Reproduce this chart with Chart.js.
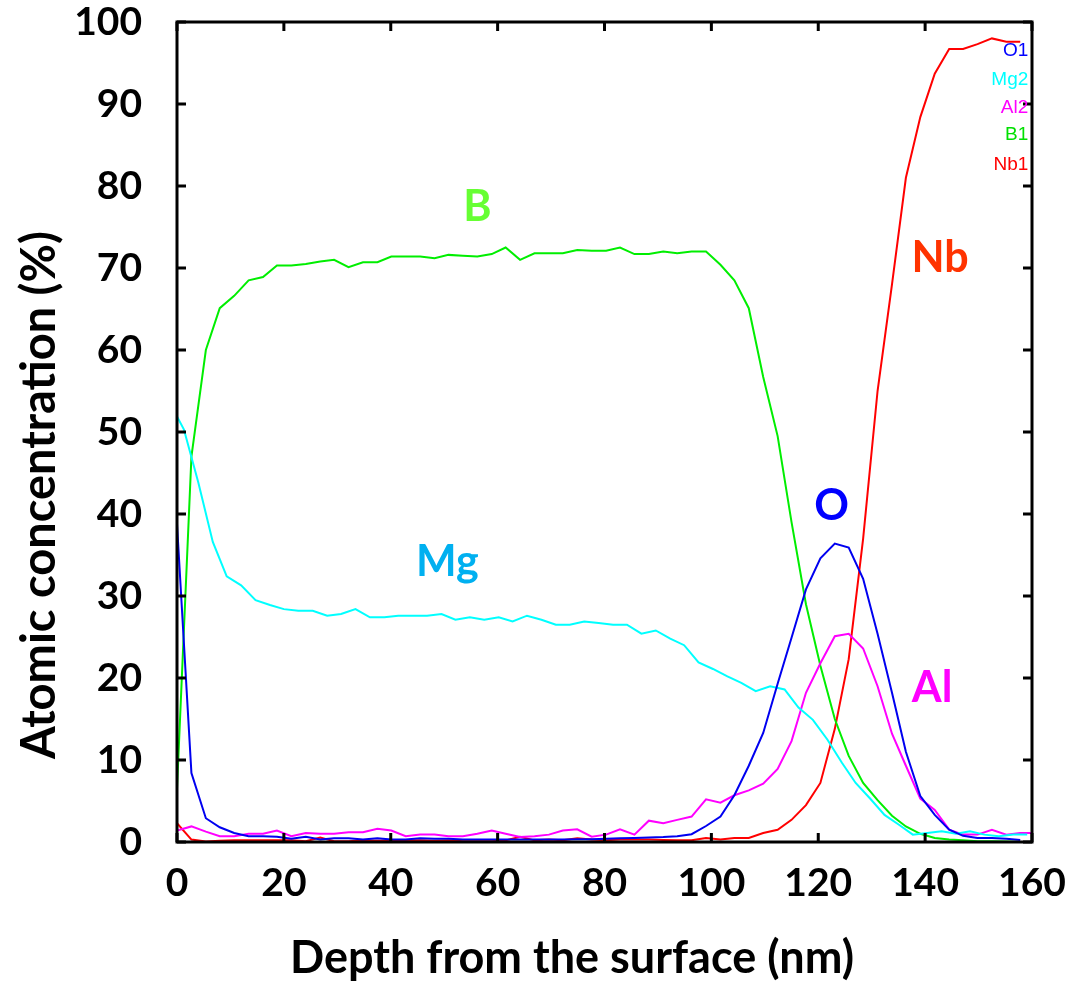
<!DOCTYPE html>
<html>
<head>
<meta charset="utf-8">
<script src="https://cdn.jsdelivr.net/npm/chart.js@4.4.1/dist/chart.umd.min.js"></script>
<style>
    html, body { margin: 0; padding: 0; background: #fff; }
    #wrap { width: 1072px; height: 981px; }
</style>
</head>
<body>
<div id="wrap"><canvas id="profile" width="1072" height="981"></canvas></div>
<script>
// ======================================================================
//  Données : profil de concentration atomique (%) en fonction de la profondeur (nm)
// ======================================================================

// Profondeurs communes (B, O, Al, Nb)
const depth = [0, 2.7, 5.4, 8.0, 10.7, 13.4, 16.1, 18.7, 21.4, 24.1,
    26.8, 29.4, 32.1, 34.8, 37.5, 40.1, 42.8, 45.5, 48.2, 50.8,
    53.5, 56.2, 58.9, 61.5, 64.2, 66.9, 69.6, 72.2, 74.9, 77.6,
    80.3, 82.9, 85.6, 88.3, 91.0, 93.6, 96.3, 99.0, 101.7, 104.3,
    107.0, 109.7, 112.4, 115.0, 117.7, 120.4, 123.1, 125.7, 128.4, 131.1,
    133.8, 136.4, 139.1, 141.8, 144.5, 147.1, 149.8, 152.5, 155.2, 157.8, 160.5];

// Profondeurs du Mg (acquisition décalée)
const depthMg = [0, 1.3, 4.0, 6.7, 9.3, 12.0, 14.7, 17.4, 20.0, 22.7,
    25.4, 28.1, 30.7, 33.4, 36.1, 38.8, 41.4, 44.1, 46.8, 49.5,
    52.1, 54.8, 57.5, 60.2, 62.8, 65.5, 68.2, 70.9, 73.5, 76.2,
    78.9, 81.6, 84.2, 86.9, 89.6, 92.3, 94.9, 97.6, 100.3, 103.0,
    105.6, 108.3, 111.0, 113.7, 116.3, 119.0, 121.7, 124.4, 127.0, 129.7,
    132.4, 135.1, 137.7, 140.4, 143.1, 145.8, 148.4, 151.1, 153.8, 156.5, 159.1];

const boron = [6.5, 47, 60, 65.1, 66.6, 68.5, 68.9, 70.3, 70.3, 70.5,
    70.8, 71.0, 70.1, 70.7, 70.7, 71.4, 71.4, 71.4, 71.2, 71.6,
    71.5, 71.4, 71.7, 72.5, 71.0, 71.8, 71.8, 71.8, 72.2, 72.1,
    72.1, 72.5, 71.7, 71.7, 72.0, 71.8, 72.0, 72.0, 70.4, 68.5,
    65.1, 56.7, 49.5, 39, 29, 21.5, 15, 10.5, 7.2, 5.1,
    3.2, 1.9, 1.0, 0.5, 0.3, 0.2, 0.1, 0.1, 0.05, 0];

const magnesium = [51.9, 50.3, 43.8, 36.6, 32.4, 31.3, 29.5, 28.9, 28.4, 28.2,
    28.2, 27.6, 27.8, 28.4, 27.4, 27.4, 27.6, 27.6, 27.6, 27.8,
    27.1, 27.4, 27.1, 27.4, 26.9, 27.6, 27.1, 26.5, 26.5, 26.9,
    26.7, 26.5, 26.5, 25.4, 25.8, 24.8, 24.0, 21.9, 21.1, 20.2,
    19.4, 18.4, 19.0, 18.6, 16.4, 14.9, 12.5, 9.7, 7.2, 5.3,
    3.3, 2.1, 0.9, 1.1, 1.3, 1.0, 1.3, 0.9, 0.7, 0.9, 0.9];

const oxygen = [38.8, 8.4, 2.9, 1.8, 1.1, 0.7, 0.7, 0.65, 0.4, 0.65,
    0.3, 0.45, 0.45, 0.3, 0.45, 0.3, 0.3, 0.45, 0.4, 0.4,
    0.3, 0.3, 0.3, 0.3, 0.3, 0.3, 0.3, 0.3, 0.35, 0.35,
    0.4, 0.45, 0.5, 0.55, 0.6, 0.7, 0.95, 1.95, 3.1, 5.7,
    9.3, 13.3, 19.3, 24.9, 30.8, 34.6, 36.4, 35.9, 32.1, 25.4,
    18.2, 11.0, 5.6, 3.3, 1.5, 0.75, 0.5, 0.5, 0.4, 0.25];

const aluminium = [1.4, 1.9, 1.26, 0.7, 0.7, 1.0, 1.0, 1.4, 0.7, 1.1,
    1.0, 1.0, 1.2, 1.2, 1.6, 1.4, 0.7, 0.9, 0.9, 0.7,
    0.7, 1.0, 1.4, 1.0, 0.6, 0.7, 0.9, 1.4, 1.55, 0.65,
    0.9, 1.55, 0.9, 2.6, 2.3, 2.7, 3.1, 5.2, 4.8, 5.7,
    6.3, 7.1, 8.9, 12.3, 18.2, 21.8, 25.1, 25.4, 23.6, 19.0,
    13.2, 9.3, 5.3, 3.9, 1.5, 0.9, 0.9, 1.5, 0.9, 1.1, 1.1];

const niobium = [2.3, 0.3, 0.05, 0.15, 0.2, 0.2, 0.2, 0.2, 0.2, 0.1,
    0.55, 0.1, 0.1, 0.2, 0.15, 0.2, 0.2, 0.2, 0.15, 0.2,
    0.1, 0.1, 0.1, 0.2, 0.65, 0.2, 0.3, 0.2, 0.45, 0.3,
    0.2, 0.3, 0.3, 0.3, 0.25, 0.2, 0.2, 0.5, 0.3, 0.5,
    0.5, 1.1, 1.5, 2.7, 4.5, 7.2, 13.8, 22.3, 37, 55,
    68, 81, 88.4, 93.7, 96.7, 96.7, 97.3, 98.0, 97.6, 97.6];

// Étiquettes des courbes
const seriesNames = ["O1", "Mg2", "Al2", "B1", "Nb1"];
const elementNames = ["O", "Mg", "Al", "B", "Nb"];

// ======================================================================
//  Utilitaires
// ======================================================================

function toPoints(xs, ys) {
    return ys.map((v, i) => ({ x: xs[i], y: v }));
}

function makeSet(label, xs, ys, color) {
    return {
        label,
        data: toPoints(xs, ys),
        borderColor: color,
        backgroundColor: color,
        borderWidth: 2,
        pointRadius: 0,
        tension: 0,
        fill: false
    };
}

// ======================================================================
//  Plugins : cadre, graduations internes, textes
// ======================================================================

const framePlugin = {
    id: "frame",
    afterDatasetsDraw(chart) {
        const { ctx, chartArea: a, scales: { x, y } } = chart;
        const len = 9;
        ctx.save();
        ctx.strokeStyle = "#000";
        ctx.lineWidth = 3;
        ctx.beginPath();
        x.ticks.forEach(t => {
            const px = x.getPixelForValue(t.value);
            ctx.moveTo(px, a.bottom); ctx.lineTo(px, a.bottom - len);
            ctx.moveTo(px, a.top); ctx.lineTo(px, a.top + len);
        });
        y.ticks.forEach(t => {
            const py = y.getPixelForValue(t.value);
            ctx.moveTo(a.left, py); ctx.lineTo(a.left + len, py);
            ctx.moveTo(a.right, py); ctx.lineTo(a.right - len, py);
        });
        ctx.stroke();
        ctx.strokeRect(a.left, a.top, a.right - a.left, a.bottom - a.top);
        ctx.restore();
    }
};

// Textes posés en coordonnées de données
const labelsPlugin = {
    id: "labels",
    afterDraw(chart) {
        const { ctx, scales: { x, y } } = chart;
        ctx.save();

        // grands symboles des éléments
        const big = [
            { t: elementNames[3], x: 56.2, y: 77.4, c: "#66FF33" },
            { t: elementNames[1], x: 50.6, y: 34.1, c: "#00B0F0" },
            { t: elementNames[0], x: 122.5, y: 40.9, c: "#0000FF" },
            { t: elementNames[4], x: 142.8, y: 71.2, c: "#FF3300" },
            { t: elementNames[2], x: 141.3, y: 18.8, c: "#FF00FF" }
        ];
        ctx.font = "bold 43px Lato";
        ctx.textAlign = "center";
        ctx.textBaseline = "middle";
        big.forEach(l => {
            ctx.fillStyle = l.c;
            ctx.fillText(l.t, x.getPixelForValue(l.x), y.getPixelForValue(l.y));
        });

        // petite légende en haut à droite
        const small = [
            { y: 96.5, c: "#0000FF" },
            { y: 92.9, c: "#00FFFF" },
            { y: 89.5, c: "#FF00FF" },
            { y: 86.2, c: "#00E000" },
            { y: 82.6, c: "#FF0000" }
        ];
        ctx.font = "19px 'Liberation Sans'";
        ctx.textAlign = "right";
        small.forEach((l, i) => {
            ctx.fillStyle = l.c;
            ctx.fillText(seriesNames[i], x.getPixelForValue(159.3), y.getPixelForValue(l.y));
        });

        // titres des axes
        ctx.fillStyle = "#000";
        ctx.textAlign = "center";
        ctx.font = "bold 45px Lato";
        ctx.fillText("Depth from the surface (nm)", 572, 958);
        ctx.font = "bold 47px Lato";
        ctx.translate(40, 495);
        ctx.rotate(-Math.PI / 2);
        ctx.fillText("Atomic concentration (%)", 0, 0);
        ctx.restore();
    }
};

// ======================================================================
//  Rendu
// ======================================================================

const tickFont = { family: "Lato", size: 39, weight: "bold" };

new Chart(document.getElementById("profile").getContext("2d"), {
    type: "line",
    data: {
        datasets: [
            makeSet("O", depth, oxygen, "#0000F0"),
            makeSet("Mg", depthMg, magnesium, "#00FFFF"),
            makeSet("Al", depth, aluminium, "#FF00FF"),
            makeSet("B", depth, boron, "#00EE00"),
            makeSet("Nb", depth, niobium, "#FF0000")
        ]
    },
    options: {
        responsive: false,
        animation: false,
        devicePixelRatio: 1,
        layout: { padding: { left: 0, right: 40, top: 22, bottom: 0 } },
        plugins: { legend: { display: false }, tooltip: { enabled: false } },
        scales: {
            x: {
                type: "linear",
                min: 0,
                max: 160,
                grid: { display: false },
                border: { display: false },
                ticks: { stepSize: 20, color: "#000", font: tickFont, padding: 10, maxRotation: 0 },
                afterFit: s => { s.height = 139; s.paddingLeft = 0; s.paddingRight = 0; }
            },
            y: {
                min: 0,
                max: 100,
                grid: { display: false },
                border: { display: false },
                ticks: { stepSize: 10, color: "#000", font: tickFont, padding: 27 },
                afterFit: s => { s.width = 177; s.paddingTop = 0; s.paddingBottom = 0; }
            }
        }
    },
    plugins: [framePlugin, labelsPlugin]
});
</script>
</body>
</html>
